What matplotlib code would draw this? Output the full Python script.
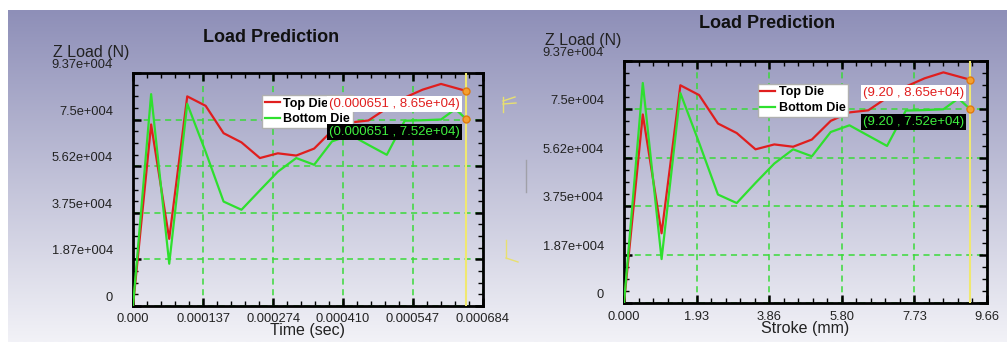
import matplotlib
matplotlib.use("Agg")
import matplotlib.pyplot as plt
import numpy as np
from matplotlib.ticker import AutoMinorLocator
from matplotlib.lines import Line2D

plt.rcParams["font.family"] = ["Liberation Sans", "DejaVu Sans"]

# data (same simulation, two x quantities)
time_sec = [0, 0.0000354, 0.0000708, 0.000106, 0.000142, 0.000177, 0.000212,
            0.000248, 0.000283, 0.000319, 0.000354, 0.000389, 0.000425,
            0.000460, 0.000496, 0.000531, 0.000566, 0.000602, 0.000630, 0.000651]
stroke_mm = [0, 0.5, 1.0, 1.5, 2.0, 2.5, 3.0, 3.5, 4.0, 4.5, 5.0, 5.5, 6.0,
             6.5, 7.0, 7.5, 8.0, 8.5, 8.9, 9.2]
top_die = [0, 73000, 27000, 84300, 80500, 69500, 65800, 59500, 61400, 60500,
           63300, 70500, 73800, 74600, 79500, 83800, 87000, 89300, 87700, 86500]
bottom_die = [0, 85200, 17000, 81300, 62000, 42000, 38700, 46500, 54000, 59500,
              56800, 66200, 68800, 64800, 60800, 74500, 74700, 75000, 79200, 75200]

time_ticks = [0, 0.000137, 0.000274, 0.000410, 0.000547, 0.000684]
time_ticklabels = ["0.000", "0.000137", "0.000274", "0.000410", "0.000547", "0.000684"]
stroke_ticks = [0, 1.93, 3.86, 5.80, 7.73, 9.66]
stroke_ticklabels = ["0.000", "1.93", "3.86", "5.80", "7.73", "9.66"]
load_ticks = [0, 18740, 37480, 56220, 74960, 93700]
load_ticklabels = ["0", "1.87e+004", "3.75e+004", "5.62e+004", "7.5e+004", "9.37e+004"]

W, H = 1007, 342
RED = "#e01e1e"
GREEN = "#2ee02e"
GRID = "#3ada3a"

fig = plt.figure(figsize=(W / 100, H / 100), dpi=100)
fig.patch.set_facecolor("white")


def px_axes(x0, y0, x1, y1, **kw):
    return fig.add_axes([x0 / W, 1 - y1 / H, (x1 - x0) / W, (y1 - y0) / H], **kw)


# gradient backdrop of the application window
bg = px_axes(8, 10, W, H)
top_c = np.array([142, 143, 184]) / 255
bot_c = np.array([242, 242, 247]) / 255
t = np.linspace(0, 1, 256)[:, None]
grad = top_c[None, :] * (1 - t) + bot_c[None, :] * t
bg.imshow(grad[:, None, :], aspect="auto", extent=[0, 1, 0, 1])
bg.axis("off")


def draw_panel(box, x, xticks, xticklabels, xlabel, cursor_x, title_xy, ylab_xy, xlab_dy, xtick_pad):
    ax = px_axes(*box)
    ax.set_facecolor("none")
    ax.plot(x, top_die, color=RED, lw=1.6, label="Top Die", zorder=3)
    ax.plot(x, bottom_die, color=GREEN, lw=1.6, label="Bottom Die", zorder=3)
    ax.set_xlim(0, xticks[-1])
    ax.set_ylim(0, load_ticks[-1])

    ax.set_xticks(xticks)
    ax.set_xticklabels(xticklabels, fontsize=9.3, color="#222222")
    ax.set_yticks(load_ticks)
    ax.set_yticklabels([])
    ax.xaxis.set_minor_locator(AutoMinorLocator(5))
    ax.yaxis.set_minor_locator(AutoMinorLocator(4))
    ax.tick_params(which="both", direction="in", top=True, right=True, color="black")
    ax.tick_params(which="major", length=6, width=1.8)
    ax.tick_params(which="minor", length=3.5, width=1)
    ax.tick_params(axis="x", which="major", pad=xtick_pad)
    for s in ax.spines.values():
        s.set_linewidth(2)
        s.set_color("black")
    ax.grid(True, which="major", color=GRID, ls=(0, (4, 3)), lw=1.1)

    # y tick labels sit a little above their ticks in this app
    for v, lab in zip(load_ticks, load_ticklabels):
        ax.annotate(lab, xy=(0, v), xycoords=("axes fraction", "data"),
                    xytext=(-20, 8), textcoords="offset pixels",
                    ha="right", va="center", fontsize=9.3, color="#222222")

    # cursor line with picked values
    ax.axvline(cursor_x, color="#f0e870", lw=1.5, zorder=4)
    for val, fc, tc in [(top_die[-1], "white", RED), (bottom_die[-1], "black", "#40f040")]:
        ax.plot(cursor_x, val, "o", ms=5, mfc="#f5a030", mec="#e07a10", mew=1, zorder=6,
                clip_on=False)
        xt = f"{cursor_x:.6f}" if cursor_x < 1 else f"{cursor_x:.2f}"
        ax.annotate(f"({xt} , {val:.2e})", xy=(cursor_x, val), xytext=(-6, -13),
                    textcoords="offset pixels", ha="right", va="center",
                    fontsize=9.5, color=tc, zorder=7,
                    bbox=dict(boxstyle="square,pad=0.15", fc=fc, ec="none"))

    leg = ax.legend(loc="upper left", bbox_to_anchor=(0.369, 0.905),
                    prop={"weight": "bold", "size": 9}, handlelength=1.2,
                    handletextpad=0.3, borderpad=0.2, labelspacing=0.3,
                    borderaxespad=0, fancybox=False, framealpha=1,
                    edgecolor="#b0b0b0", facecolor="white")
    leg.set_zorder(5)
    leg.get_frame().set_linewidth(1)

    fig.text(title_xy[0] / W, 1 - title_xy[1] / H, "Load Prediction",
             ha="center", va="center", fontsize=13, fontweight="bold", color="#111111")
    fig.text(ylab_xy[0] / W, 1 - ylab_xy[1] / H, "Z Load (N)",
             ha="center", va="center", fontsize=11.5, color="#222222")
    fig.text(((box[0] + box[2]) / 2) / W, 1 - (box[3] + xlab_dy) / H, xlabel,
             ha="center", va="center", fontsize=11.5, color="#222222")
    return ax


draw_panel((133, 73, 483, 306), time_sec, time_ticks, time_ticklabels,
           "Time (sec)", time_sec[-1], (271, 37), (91, 53), 25, 5)
draw_panel((624, 61, 987, 303), stroke_mm, stroke_ticks, stroke_ticklabels,
           "Stroke (mm)", stroke_mm[-1], (767, 24), (583, 40), 26, 6)

# little yellow view-triad glyphs and a gray splitter mark between the panels
deco = [([503, 503], [97, 112]), ([503, 515], [101, 97]), ([503, 516], [104, 103]),
        ([506, 506], [240, 258]), ([506, 518], [258, 262])]
for xs, ys in deco:
    fig.add_artist(Line2D([v / W for v in xs], [1 - v / H for v in ys],
                          color="#e8e070", lw=1))
fig.add_artist(Line2D([526 / W, 526 / W], [1 - 160 / H, 1 - 192 / H], color="#a0a0a8", lw=1))

fig.savefig("out.png", dpi=100)
